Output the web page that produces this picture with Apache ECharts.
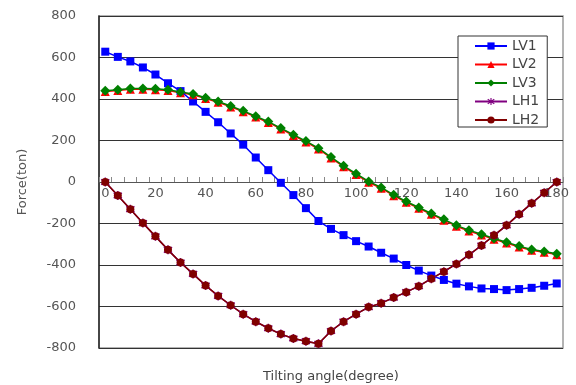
<!DOCTYPE html>
<html>
<head>
<meta charset="utf-8">
<script src="https://cdn.jsdelivr.net/npm/echarts@6/dist/echarts.min.js"></script>
<style>
  html, body { margin: 0; padding: 0; background: #fff; }
  #chart { width: 576px; height: 385px; }
</style>
</head>
<body>
<div id="chart"></div>
<script>
// 倾斜角度
const angles = ['0', '5', '10', '15', '20', '25', '30', '35', '40', '45', '50', '55', '60',
  '65', '70', '75', '80', '85', '90', '95', '100', '105', '110', '115', '120', '125',
  '130', '135', '140', '145', '150', '155', '160', '165', '170', '175', '180'];

const lv1 = [628, 603, 581, 552, 518, 476, 438, 388, 338, 288, 234, 180, 118, 57, -4,
  -63, -126, -188, -226, -256, -285, -311, -341, -369, -400, -427, -451, -472, -490,
  -503, -513, -516, -521, -516, -510, -500, -489];
const lv2 = [436, 441, 447, 447, 445, 441, 430, 420, 402, 384, 362, 339, 313, 287, 256,
  224, 193, 159, 116, 74, 36, -1, -30, -66, -98, -127, -156, -184, -213, -236, -256,
  -276, -294, -313, -329, -339, -350];
const lv3 = [440, 445, 451, 451, 449, 445, 434, 424, 406, 388, 366, 343, 317, 291, 260,
  228, 197, 163, 120, 78, 40, 3, -26, -62, -94, -123, -152, -180, -209, -232, -252,
  -272, -290, -309, -325, -335, -346];
const lh1 = [0, -65, -131, -198, -262, -327, -388, -443, -499, -549, -594, -637, -673,
  -705, -733, -754, -767, -780, -718, -673, -637, -603, -584, -557, -531, -502, -466,
  -432, -395, -351, -306, -257, -209, -155, -103, -52, 0];
const lh2 = [0, -65, -131, -198, -262, -327, -388, -443, -499, -549, -594, -637, -673,
  -705, -733, -754, -767, -780, -718, -673, -637, -603, -584, -557, -531, -502, -466,
  -432, -395, -351, -306, -257, -209, -155, -103, -52, 0];

// 星号标记
const asterisk = 'path://M4.3,0L5.7,0L5.7,10L4.3,10Z' +
  'M0.6,2.7L1.4,1.3L9.4,7.3L8.6,8.7Z' +
  'M0.6,7.3L8.6,1.3L9.4,2.7L1.4,8.7Z';

const fontFamily = 'DejaVu Sans, sans-serif';

function makeSeries (name, data, color, symbol, size) {
  return {
    name: name,
    type: 'line',
    data: data,
    symbol: symbol,
    symbolSize: size,
    showAllSymbol: true,
    itemStyle: { color: color },
    lineStyle: { color: color, width: 1.5 },
    emphasis: { disabled: true },
    animation: false
  };
}

const myChart = echarts.init(document.getElementById('chart'));
const option = {
  backgroundColor: '#fff',
  textStyle: { fontFamily: fontFamily },
  grid: {
    left: 99,
    right: 13,
    top: 16,
    bottom: 37,
    containLabel: false,
    outerBoundsMode: 'none',
    show: true,
    borderColor: '#9a9a9a',
    borderWidth: 1.5,
    backgroundColor: 'transparent'
  },
  legend: {
    orient: 'vertical',
    left: 458,
    top: 36,
    backgroundColor: '#fff',
    borderColor: '#333',
    borderWidth: 1,
    padding: [3, 8, 0, 16],
    itemGap: 4.5,
    itemWidth: 32,
    itemHeight: 9,
    textStyle: { fontSize: 14, lineHeight: 14, color: '#444', fontFamily: fontFamily },
    data: ['LV1', 'LV2', 'LV3', 'LH1', 'LH2']
  },
  xAxis: {
    type: 'category',
    data: angles,
    boundaryGap: true,
    position: 'bottom',
    offset: -166, // 横轴移到0线
    name: 'Tilting angle(degree)',
    nameLocation: 'middle',
    nameGap: 188,
    nameTextStyle: { fontSize: 13, color: '#444' },
    axisLine: { onZero: false, lineStyle: { color: '#555', width: 1 } },
    axisTick: { show: true, inside: true, length: 5, interval: 0, lineStyle: { color: '#888' } },
    axisLabel: { interval: 3, fontSize: 13, color: '#555', margin: 5 },
    splitLine: { show: false }
  },
  yAxis: {
    type: 'value',
    min: -800,
    max: 800,
    interval: 200,
    name: 'Force(ton)',
    nameLocation: 'middle',
    nameGap: 70,
    nameTextStyle: { fontSize: 13, color: '#555' },
    axisLine: { show: true, onZero: false, lineStyle: { color: '#222', width: 1.5 } },
    axisTick: { show: false },
    axisLabel: { fontSize: 13, color: '#555', margin: 23 },
    splitLine: { show: true, lineStyle: { color: '#333', width: 1 } }
  },
  series: [
    makeSeries('LV1', lv1, '#0000ff', 'rect', 8),
    makeSeries('LV2', lv2, '#ff0000', 'triangle', 9),
    makeSeries('LV3', lv3, '#008000', 'diamond', 10),
    makeSeries('LH1', lh1, '#800080', asterisk, 9),
    makeSeries('LH2', lh2, '#800000', 'circle', 8)
  ]
};
myChart.setOption(option);
window.addEventListener('resize', function () {
  myChart.resize();
});
</script>
</body>
</html>
